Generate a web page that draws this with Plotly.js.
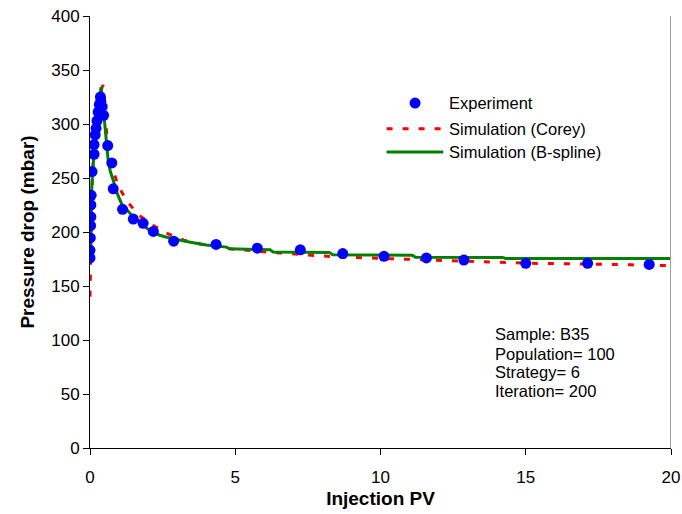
<!DOCTYPE html>
<html>
<head>
<meta charset="utf-8">
<script src="https://cdn.plot.ly/plotly-3.0.1.min.js"></script>
<style>html,body{margin:0;padding:0;background:#fff;}</style>
</head>
<body>
<div id="chart" style="width:682px;height:514px;"></div>
<script>
// Experiment data
var expX = [0.00, 0.00, 0.01, 0.02, 0.03, 0.03, 0.04, 0.07, 0.14, 0.14, 0.18, 0.21, 0.24, 0.28, 0.32, 0.36, 0.37, 0.42, 0.47, 0.61, 0.75, 0.80, 1.12, 1.49, 1.83, 2.18, 2.88, 4.34, 5.76, 7.24, 8.70, 10.12, 11.58, 12.87, 15.00, 17.13, 19.25];
var expY = [176, 183, 194.5, 206, 214, 225, 234, 256, 272, 281, 290, 296, 303, 311, 318, 325, 321, 316, 308, 280, 264, 240, 221, 212, 208, 200.5, 191.5, 188.5, 185, 183.5, 180, 177.5, 176, 174, 171, 171, 170];
// Simulation (Corey)
var coreyX = [0, 0.01, 0.02, 0.04, 0.07, 0.10, 0.15, 0.20, 0.27, 0.35, 0.44, 0.47, 0.50, 0.55, 0.60, 0.65, 0.72, 0.80, 0.97, 1.26, 1.66, 2.18, 2.71, 3.23, 4.00, 4.97, 6.08, 7.24, 8.40, 9.51, 10.67, 11.77, 12.94, 14.10, 15.20, 16.37, 17.53, 18.64, 20.00];
var coreyY = [140, 160, 180, 210, 240, 260, 282, 298, 315, 328, 336, 334, 318, 295, 283, 273, 264, 257, 243, 229, 216, 206, 198, 192.5, 187.5, 184, 181.5, 179, 177, 176, 175, 173.5, 172.8, 172, 171, 170.6, 169.8, 169.6, 168.8];
// Simulation (B-spline)
var bsplX = [0, 0.01, 0.03, 0.06, 0.09, 0.13, 0.17, 0.22, 0.27, 0.32, 0.36, 0.38, 0.41, 0.45, 0.50, 0.56, 0.63, 0.70, 0.80, 0.90, 1.09, 1.30, 1.49, 1.80, 2.07, 2.40, 2.80, 3.46, 4.00, 4.70, 4.80, 6.20, 6.30, 8.24, 8.36, 11.10, 11.20, 14.20, 14.30, 20.00];
var bsplY = [175, 190, 215, 240, 257, 270, 280, 295, 310, 322, 330, 334, 328, 315, 302, 285, 265, 256, 248, 238, 226, 220, 214, 207, 201, 197, 194, 190.5, 188, 186, 184.5, 183.5, 181.5, 181, 179, 178.5, 176.6, 176.5, 175.5, 175.5];
// Axis ticks
var xTicks = [0, 5, 10, 15, 20];
var yTicks = [0, 50, 100, 150, 200, 250, 300, 350, 400];
// Texts
var legendNames = ['Experiment', 'Simulation (Corey)', 'Simulation (B-spline)'];
var infoLines = ['Sample: B35', 'Population= 100', 'Strategy= 6', 'Iteration= 200'];

var FONT = 'Liberation Sans, Arial, sans-serif';

var traces = [
  {x: coreyX, y: coreyY, mode: 'lines', name: legendNames[1], showlegend: false,
   line: {color: '#FF0000', width: 3, dash: '6px,10px'}},
  {x: bsplX, y: bsplY, mode: 'lines', name: legendNames[2], showlegend: false,
   line: {color: '#008000', width: 3}},
  {x: expX, y: expY, mode: 'markers', name: legendNames[0], showlegend: false,
   marker: {color: '#0000FF', size: 11}}
];

// manual legend + info text placed in data coordinates
var legX = 11.19, legLineX0 = 10.21, legLineX1 = 12.16, legTextX = 12.28;
var legRowY = [319.4, 295.7, 274.1];
var infoX = 13.87;
var infoY = [105.3, 87.4, 70.3, 52.7];

var shapes = [
  {type: 'line', xref: 'x', yref: 'paper', x0: 20, x1: 20, y0: 0, y1: 1,
   line: {color: '#A0A0A0', width: 2}},
  {type: 'circle', xref: 'x', yref: 'y', xsizemode: 'pixel', ysizemode: 'pixel',
   xanchor: legX, yanchor: legRowY[0], x0: -5.5, x1: 5.5, y0: -5.5, y1: 5.5,
   fillcolor: '#0000FF', line: {color: '#0000FF', width: 0}},
  {type: 'line', xref: 'x', yref: 'y', x0: legLineX0, x1: legLineX1, y0: legRowY[1], y1: legRowY[1],
   line: {color: '#FF0000', width: 3, dash: '6px,10px'}},
  {type: 'line', xref: 'x', yref: 'y', x0: legLineX0, x1: legLineX1, y0: legRowY[2], y1: legRowY[2],
   line: {color: '#008000', width: 3}}
];

var annotations = [];
legendNames.forEach(function (t, i) {
  annotations.push({xref: 'x', yref: 'y', x: legTextX, y: legRowY[i], text: t, showarrow: false,
    xanchor: 'left', yanchor: 'middle', font: {family: FONT, size: 16.5, color: '#000'}});
});
infoLines.forEach(function (t, i) {
  annotations.push({xref: 'x', yref: 'y', x: infoX, y: infoY[i], text: t, showarrow: false,
    xanchor: 'left', yanchor: 'middle', font: {family: FONT, size: 16.5, color: '#000'}});
});

var layout = {
  width: 682, height: 514,
  margin: {l: 90, r: 11, t: 16, b: 66, pad: 0},
  paper_bgcolor: '#fff', plot_bgcolor: '#fff',
  showlegend: false,
  font: {family: FONT, color: '#000'},
  xaxis: {
    range: [0, 20], tickvals: xTicks, ticktext: xTicks.map(String),
    ticks: 'outside', ticklen: 6, tickcolor: '#000', tickwidth: 1,
    showline: true, linecolor: '#000', linewidth: 1,
    showgrid: false, zeroline: false, ticklabelstandoff: 8,
    tickfont: {family: FONT, size: 17, color: '#000'},
    title: {text: 'Injection PV', font: {family: FONT, size: 19, weight: 'bold', color: '#000'}, standoff: 5}
  },
  yaxis: {
    range: [0, 400], tickvals: yTicks, ticktext: yTicks.map(String),
    ticks: 'outside', ticklen: 6, tickcolor: '#000', tickwidth: 1,
    showline: true, linecolor: '#000', linewidth: 1,
    showgrid: false, zeroline: false,
    tickfont: {family: FONT, size: 17, color: '#000'},
    title: {text: '\u00A0\u00A0\u00A0Pressure drop (mbar)', font: {family: FONT, size: 19, weight: 'bold', color: '#000'}, standoff: 11}
  },
  shapes: shapes,
  annotations: annotations
};

Plotly.newPlot('chart', traces, layout, {displayModeBar: false, staticPlot: true});
</script>
</body>
</html>
